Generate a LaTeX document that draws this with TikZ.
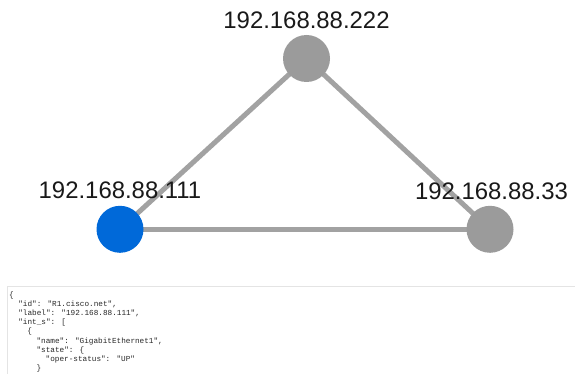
\documentclass[tikz,border=0pt]{standalone}
\usepackage{fontspec}
\setmainfont{Liberation Sans}
\newfontfamily\codefont{Liberation Mono}
\usetikzlibrary{backgrounds}
\definecolor{hostgray}{RGB}{155,155,155}
\definecolor{linkgray}{RGB}{162,162,162}
\definecolor{hostblue}{RGB}{0,105,217}
\definecolor{codetext}{RGB}{40,40,40}
\definecolor{panelline}{RGB}{228,228,228}
\begin{document}
\begin{tikzpicture}[x=1pt,y=-1pt,
  host/.style={circle,fill=hostgray,draw=none,minimum size=47pt,inner sep=0pt},
  selhost/.style={host,fill=hostblue},
  hostlabel/.style={anchor=base,inner sep=0pt,font=\fontsize{23.9}{28}\selectfont,text=black!90},
  link/.style={draw=linkgray,line width=5pt},
  codeline/.style={anchor=base west,inner sep=0pt,text=codetext,font=\codefont\fontsize{7.7}{9}\selectfont}]
\useasboundingbox (0,0) rectangle (575,374);

% hosts
\node[selhost] (r1) at (120,229.3) {};
\node[host] (r2) at (306.5,58.5) {};
\node[host] (r3) at (490,229.3) {};

% host labels
\node[hostlabel] (l1) at (120,198) {192.168.88.111};
\node[hostlabel] (l2) at (306.5,29) {192.168.88.222};
\node[hostlabel] (l3) at (491.5,199) {192.168.88.33};

% links between hosts
\begin{pgfonlayer}{background}
\draw[link] (r1.center) -- (r2.center);
\draw[link] (r2.center) -- (r3.center);
\draw[link] (r1.center) -- (r3.center);
\end{pgfonlayer}

% JSON panel
\coordinate (pbl) at (7,374);
\coordinate (ptl) at (7,286);
\coordinate (ptr) at (575,286);
\draw[panelline,line width=1pt] (pbl) -- (ptl) -- (ptr);

\def\cw{4.56}
\node[codeline] (j1) at (9,297) {\{};
\node[codeline] (j2) at (9+2*\cw,306.2) {"id": "R1.cisco.net",};
\node[codeline] (j3) at (9+2*\cw,315.4) {"label": "192.168.88.111",};
\node[codeline] (j4) at (9+2*\cw,324.6) {"int\_s": [};
\node[codeline] (j5) at (9+4*\cw,333.8) {\{};
\node[codeline] (j6) at (9+6*\cw,343) {"name": "GigabitEthernet1",};
\node[codeline] (j7) at (9+6*\cw,352.2) {"state": \{};
\node[codeline] (j8) at (9+8*\cw,361.4) {"oper-status": "UP"};
\node[codeline] (j9) at (9+6*\cw,370.6) {\}};
\end{tikzpicture}
\end{document}
